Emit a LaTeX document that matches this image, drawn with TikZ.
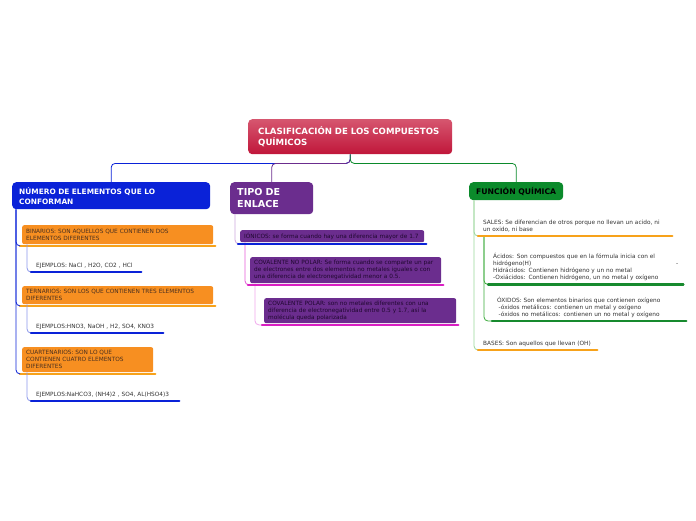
\documentclass[tikz,border=0pt]{standalone}
\usepackage{fontspec}
\setmainfont{DejaVu Sans}
\usetikzlibrary{positioning,calc}

\definecolor{roottop}{HTML}{D6566F}
\definecolor{rootbot}{HTML}{C0163A}
\definecolor{numblue}{HTML}{0A22D8}
\definecolor{lightblue}{HTML}{8A96EA}
\definecolor{tipopurple}{HTML}{6B2D8E}
\definecolor{lightpurple}{HTML}{CDA6DE}
\definecolor{magenta}{HTML}{D91EC2}
\definecolor{pinkline}{HTML}{E65AD8}
\definecolor{paleline}{HTML}{F0A8EC}
\definecolor{funcgreen}{HTML}{0B8A2B}
\definecolor{lightgreen}{HTML}{9AD69A}
\definecolor{midgreen}{HTML}{3AAA3A}
\definecolor{bargreen}{HTML}{178A2E}
\definecolor{boxorange}{HTML}{F78F21}
\definecolor{barorange}{HTML}{F7A21A}
\definecolor{boxtext}{HTML}{4A3020}
\definecolor{purpletext}{HTML}{200830}
\definecolor{leafgray}{HTML}{333333}

\begin{document}
\begin{tikzpicture}[x=1pt, y=-1pt,
    topic/.style={rectangle, rounded corners=4pt, anchor=north west, align=left,
      text=white, font=\bfseries\fontsize{7.4}{10}\selectfont},
    box/.style={rectangle, rounded corners=2pt, anchor=north west, align=left,
      inner xsep=4pt, inner ysep=0pt, font=\fontsize{5.8}{7}\selectfont},
    leaf/.style={anchor=south west, align=left, inner xsep=5pt, inner ysep=3.5pt,
      text=leafgray, font=\fontsize{5.8}{7}\selectfont},
    bar/.style={line width=2.2pt, line cap=round},
    link/.style={line width=0.8pt, rounded corners=4pt}
]
    \useasboundingbox (0,0) rectangle (696,520);

    % Central topic
    \node[topic, top color=roottop, bottom color=rootbot, text width=184pt,
      inner xsep=10pt, minimum height=35pt,
      font=\bfseries\fontsize{8.6}{11}\selectfont] (root) at (248,119)
      {CLASIFICACIÓN DE LOS COMPUESTOS\\QUÍMICOS};

    % Main topics
    \node[topic, fill=numblue, text width=184pt, inner xsep=7pt,
      minimum height=27pt] (num) at (12,182)
      {NÚMERO DE ELEMENTOS QUE LO\\CONFORMAN};
    \node[topic, fill=tipopurple, text width=69pt, inner xsep=7pt,
      minimum height=32pt, font=\bfseries\fontsize{9.6}{12}\selectfont] (tipo) at (230,182)
      {TIPO DE\\ENLACE};
    \node[topic, fill=funcgreen, text=black, minimum width=94pt,
      minimum height=18pt, font=\bfseries\fontsize{7.7}{10}\selectfont] (func) at (469,182) {FUNCIÓN QUÍMICA};

    \draw[link, numblue] (root.south) -- ++(0,9) -| (num.north);
    \draw[link, tipopurple] (root.south) -- ++(0,9) -| (tipo.north);
    \draw[link, funcgreen] (root.south) -- ++(0,9) -| (func.north);

    % Numero de elementos
    \node[box, fill=boxorange, text=boxtext, text width=183pt, minimum height=19pt] (bin) at (22,225)
      {BINARIOS: SON AQUELLOS QUE CONTIENEN DOS\\ELEMENTOS DIFERENTES};
    \node[box, fill=boxorange, text=boxtext, text width=183pt, minimum height=18pt] (tern) at (22,286)
      {TERNARIOS: SON LOS QUE CONTIENEN TRES ELEMENTOS\\DIFERENTES};
    \node[box, fill=boxorange, text=boxtext, text width=123pt, minimum height=25pt] (quart) at (22,347)
      {CUARTENARIOS: SON LO QUE\\CONTIENEN CUATRO ELEMENTOS\\DIFERENTES};

    \foreach \n in {bin,tern,quart} {
      \coordinate (\n-l) at ($(\n.south west)+(-2,1.5)$);
      \coordinate (\n-r) at ($(\n.south east)+(2,1.5)$);
      \draw[bar, barorange] (\n-l) -- (\n-r);
      \draw[link, numblue] ($(num.south west)+(4,0)$) |- (\n-l);
    }

    \node[leaf, text width=100pt] (ex1) at (31,272) {EJEMPLOS: NaCl , H2O, CO2 , HCl};
    \node[leaf, text width=122pt] (ex2) at (31,333) {EJEMPLOS:HNO3, NaOH , H2, SO4, KNO3};
    \node[leaf, text width=138pt] (ex3) at (31,401) {EJEMPLOS:NaHCO3, (NH4)2 , SO4, AL(HSO4)3};

    \draw[link, lightblue] ($(bin.south west)+(5,0)$) |- (ex1.south west);
    \draw[link, lightblue] ($(tern.south west)+(5,0)$) |- (ex2.south west);
    \draw[link, lightblue] ($(quart.south west)+(5,0)$) |- (ex3.south west);
    \foreach \n in {ex1,ex2,ex3}
      \draw[bar, numblue] (\n.south west) -- (\n.south east);

    % Tipo de enlace
    \node[box, fill=tipopurple, text=purpletext, text width=176pt, minimum height=12pt] (ion) at (240,230)
      {IÓNICOS: se forma cuando hay una diferencia mayor de 1.7};
    \node[box, fill=tipopurple, text=purpletext, text width=183pt, minimum height=26pt] (cnp) at (250,257)
      {COVALENTE NO POLAR: Se forma cuando se comparte un par\\de electrones entre dos elementos no metales iguales o con\\una diferencia de electronegatividad menor a 0.5.};
    \node[box, fill=tipopurple, text=purpletext, text width=184pt, minimum height=25pt] (cp) at (264,298)
      {COVALENTE POLAR: son no metales diferentes con una\\diferencia de electronegatividad entre 0.5 y 1.7, así la\\molécula queda polarizada};

    \foreach \n in {ion,cnp,cp} {
      \coordinate (\n-l) at ($(\n.south west)+(-2,1.5)$);
      \coordinate (\n-r) at ($(\n.south east)+(2,1.5)$);
    }
    \draw[link, lightpurple] ($(tipo.south west)+(5,0)$) |- (ion-l);
    \draw[link, pinkline] ($(ion.south west)+(5,0)$) |- (cnp-l);
    \draw[link, paleline] ($(cnp.south west)+(5,0)$) |- (cp-l);
    \draw[bar, numblue] (ion-l) -- (ion-r);
    \draw[bar, magenta] (cnp-l) -- (cnp-r);
    \draw[bar, magenta] (cp-l) -- (cp-r);

    % Funcion quimica
    \node[leaf, text width=184pt] (sal) at (478,236)
      {SALES: Se diferencian de otros porque no llevan un acido, ni\\un oxido, ni base};
    \node[leaf, text width=185pt] (aci) at (488,284.5)
      {Ácidos: Son compuestos que en la fórmula inicia con el\\hidrógeno(H)\hfill-\hspace*{3pt}\\Hidrácidos: Contienen hidrógeno y un no metal\\-Oxiácidos: Contienen hidrógeno, un no metal y oxígeno};
    \node[leaf, text width=184pt] (oxi) at (492,321)
      {ÓXIDOS: Son elementos binarios que contienen oxígeno\\\hspace*{1.5pt}-óxidos metálicos: contienen un metal y oxígeno\\\hspace*{1.5pt}-óxidos no metálicos: contienen un no metal y oxígeno};
    \node[leaf, text width=109pt] (bas) at (478,350) {BASES: Son aquellos que llevan (OH)};

    \draw[link, lightgreen] ($(func.south west)+(5,0)$) |- (sal.south west);
    \draw[link, lightgreen] ($(func.south west)+(5,0)$) |- (bas.south west);
    \draw[link, midgreen] ($(sal.south west)+(6,0)$) |- (aci.south west);
    \draw[link, midgreen] ($(sal.south west)+(6,0)$) |- (oxi.south west);
    \draw[bar, barorange] (sal.south west) -- (sal.south east);
    \draw[bar, barorange] (bas.south west) -- (bas.south east);
    \draw[bar, bargreen] (aci.south west) -- (aci.south east);
    \draw[bar, bargreen] (oxi.south west) -- (oxi.south east);
\end{tikzpicture}
\end{document}
